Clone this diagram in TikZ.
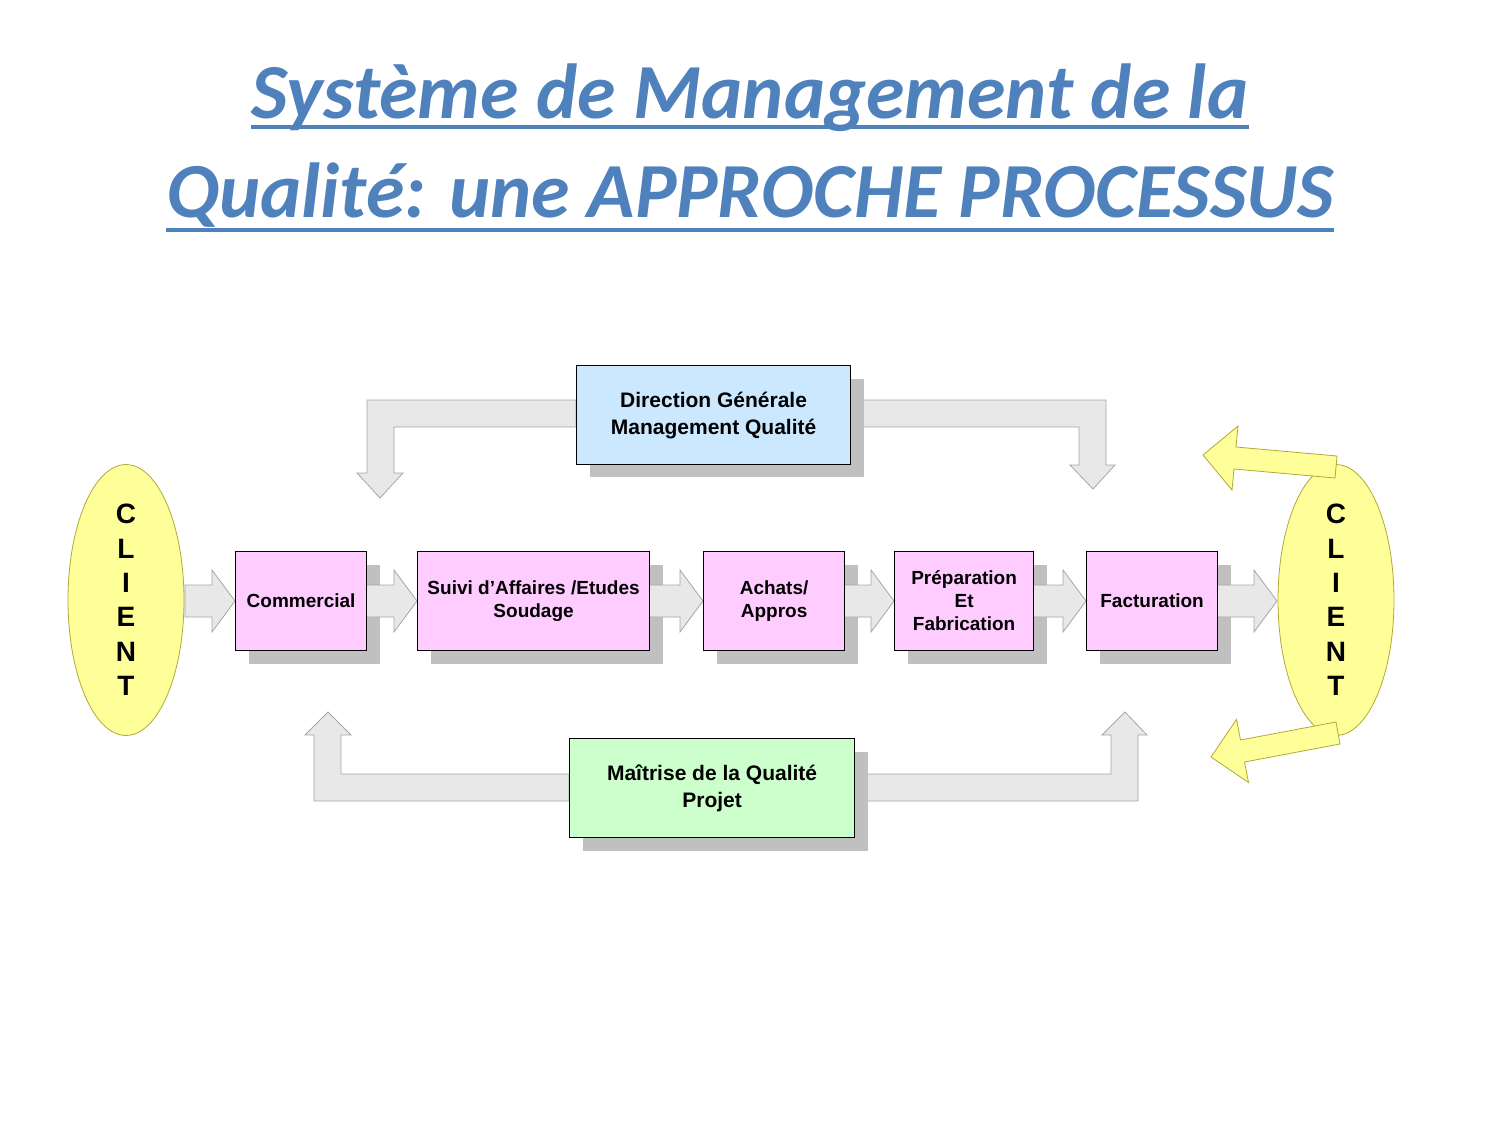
\documentclass[tikz,border=0pt]{standalone}
\usepackage{fontspec}
\setmainfont{Liberation Sans}
\newfontfamily\titlefont{Carlito}
\definecolor{tblue}{HTML}{4F81BD}
\definecolor{pinkb}{HTML}{FFCCFF}
\definecolor{blueb}{HTML}{CCE8FF}
\definecolor{greenb}{HTML}{CCFFCC}
\definecolor{yel}{HTML}{FFFF99}
\definecolor{garr}{HTML}{E8E8E8}
\definecolor{shad}{HTML}{C0C0C0}
\tikzset{
 procbox/.style={draw=black,line width=0.6pt,minimum height=49.5pt,inner sep=0pt,align=center,font=\bfseries\fontsize{9.5}{11.5}\selectfont,anchor=north west},
 blockarrow/.style={fill=garr,draw=gray!70,line width=0.4pt},
 yarrow/.style={fill=yel,draw=olive!70,line width=0.4pt},
 clientell/.style={ellipse,fill=yel,draw=olive!70,line width=0.4pt,minimum width=58pt,minimum height=130pt,inner sep=0pt,align=center,font=\bfseries\fontsize{14}{17.2}\selectfont},
}
\usetikzlibrary{shapes.geometric}
\newcommand{\rarr}[3]{\draw[blockarrow] (#1,#3-16) -- (#2-23,#3-16) -- (#2-23,#3-31) -- (#2,#3) -- (#2-23,#3+31) -- (#2-23,#3+16) -- (#1,#3+16) -- cycle;}
\begin{document}
\begin{tikzpicture}[x=0.5pt,y=-0.5pt]
\useasboundingbox (0,0) rectangle (1500,1125);
% title
\node[inner sep=0pt,anchor=base,text=tblue,font=\titlefont\bfseries\itshape\fontsize{39}{40}\selectfont] (t1) at (750,118) {Système de Management de la};
\node[inner sep=0pt,anchor=base,text=tblue,font=\titlefont\bfseries\itshape\fontsize{39}{40}\selectfont] (t2) at (750,217) {Qualité: une APPROCHE PROCESSUS};
\draw[tblue,line width=2pt] (t1.west |- 0,127) -- (t1.east |- 0,127);
\draw[tblue,line width=2pt] (t2.west |- 0,230) -- (t2.east |- 0,230);
% clients
\node[clientell] (c1) at (126,600) {C\\L\\I\\E\\N\\T};
\node[clientell] (c2) at (1336,600) {C\\L\\I\\E\\N\\T};
\draw[yarrow] (1337,456) -- (1236,447) -- (1238,426) -- (1203,455) -- (1232,490) -- (1234,469) -- (1335,478) -- cycle;
\draw[yarrow] (1340,744) -- (1244.5,762) -- (1248.5,782.5) -- (1211,757) -- (1236.5,719.5) -- (1240.5,740) -- (1336,722) -- cycle;
% feedback arrows
\draw[blockarrow] (576,400) -- (367,400) -- (367,473) -- (357,473) -- (380,498) -- (403,473) -- (394,473) -- (394,427) -- (576,427) -- cycle;
\draw[blockarrow] (850,400) -- (1106,400) -- (1106,465) -- (1115,465) -- (1093,489) -- (1070,465) -- (1079,465) -- (1079,427) -- (850,427) -- cycle;
\draw[blockarrow] (569,801) -- (314,801) -- (314,735) -- (305,735) -- (328,712) -- (351,735) -- (341,735) -- (341,774) -- (569,774) -- cycle;
\draw[blockarrow] (854,801) -- (1138,801) -- (1138,735) -- (1147,735) -- (1125,712) -- (1102,735) -- (1111,735) -- (1111,774) -- (854,774) -- cycle;
% shadows
\foreach \a/\b in {235/366,417/649,703/844,894/1033,1086/1217}
  \fill[shad] (\a+14,565) rectangle (\b+14,664);
\fill[shad] (590,379) rectangle (864,477);
\fill[shad] (583,752) rectangle (868,851);
% process arrows
\rarr{185}{235}{601}
\rarr{366}{417}{601}
\rarr{649}{703}{601}
\rarr{844}{894}{601}
\rarr{1033}{1086}{601}
\rarr{1217}{1277}{601}
% boxes
\node[procbox,fill=pinkb,minimum width=65.5pt] (com) at (235,551) {Commercial};
\node[procbox,fill=pinkb,minimum width=116pt] (suivi) at (417,551) {Suivi d’Affaires /Etudes\\Soudage};
\node[procbox,fill=pinkb,minimum width=70.5pt] (ach) at (703,551) {Achats/\\Appros};
\node[procbox,fill=pinkb,minimum width=69.5pt] (prep) at (894,551) {Préparation\\Et\\Fabrication};
\node[procbox,fill=pinkb,minimum width=65.5pt] (fact) at (1086,551) {Facturation};
\node[procbox,fill=blueb,minimum width=137pt,font=\bfseries\fontsize{10.5}{13.5}\selectfont] (dir) at (576,365) {Direction Générale\\Management Qualité};
\node[procbox,fill=greenb,minimum width=142.5pt,font=\bfseries\fontsize{10.5}{13.5}\selectfont] (mq) at (569,738) {Maîtrise de la Qualité\\Projet};
\end{tikzpicture}
\end{document}
